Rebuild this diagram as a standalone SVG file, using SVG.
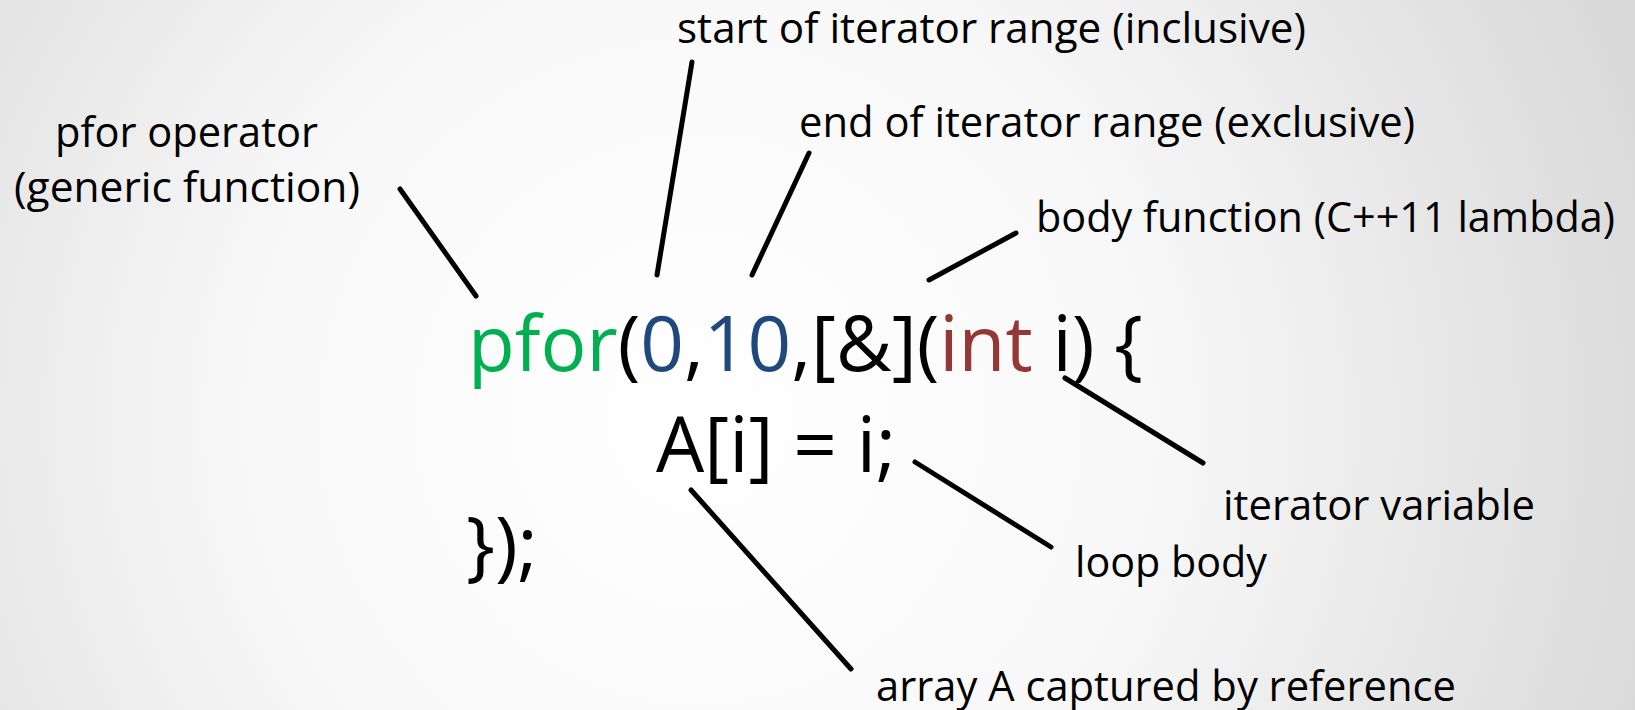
<svg xmlns="http://www.w3.org/2000/svg" width="1635" height="710" viewBox="0 0 1635 710">
<defs>
<radialGradient id="bg" cx="700" cy="420" r="1000" gradientUnits="userSpaceOnUse">
<stop offset="0" stop-color="#ffffff"/>
<stop offset="0.45" stop-color="#f8f8f8"/>
<stop offset="1" stop-color="#d9d9d9"/>
</radialGradient>
<style>
.lbl{font-family:"Open Sans","Noto Sans",sans-serif;font-size:42px;fill:#000}
.code{font-family:"Open Sans","Noto Sans",sans-serif;font-size:77px;fill:#000}
.g{fill:#00B050}.b{fill:#1F497D}.r{fill:#953735}
.ln{stroke:#000;stroke-width:5;stroke-linecap:round;fill:none}
</style>
</defs>
<rect width="1635" height="710" fill="url(#bg)"/>
<g id="code">
<text class="code" x="468" y="371" textLength="675" lengthAdjust="spacingAndGlyphs"><tspan class="g">pfor</tspan>(<tspan class="b">0</tspan>,<tspan class="b">10</tspan>,[&amp;](<tspan class="r">int</tspan> i) {</text>
<text class="code" x="656" y="472" textLength="240" lengthAdjust="spacingAndGlyphs">A[i] = i;</text>
<text class="code" x="466" y="572">});</text>
</g>
<g id="label-pfor">
<text class="lbl" x="55" y="147" textLength="263" lengthAdjust="spacingAndGlyphs">pfor operator</text>
<text class="lbl" x="14" y="202" textLength="346" lengthAdjust="spacingAndGlyphs">(generic function)</text>
</g>
<g id="label-start"><text class="lbl" x="677" y="43" textLength="629" lengthAdjust="spacingAndGlyphs">start of iterator range (inclusive)</text></g>
<g id="label-end"><text class="lbl" x="799" y="137" textLength="616" lengthAdjust="spacingAndGlyphs">end of iterator range (exclusive)</text></g>
<g id="label-body"><text class="lbl" x="1036" y="232" textLength="579" lengthAdjust="spacingAndGlyphs">body function (C++11 lambda)</text></g>
<g id="label-iter"><text class="lbl" x="1223" y="520" textLength="312" lengthAdjust="spacingAndGlyphs">iterator variable</text></g>
<g id="label-loop"><text class="lbl" x="1075" y="577" textLength="192" lengthAdjust="spacingAndGlyphs">loop body</text></g>
<g id="label-array"><text class="lbl" x="876" y="701" textLength="580" lengthAdjust="spacingAndGlyphs">array A captured by reference</text></g>
<g id="connectors">
<line class="ln" x1="400" y1="189" x2="476" y2="296"/>
<line class="ln" x1="692" y1="62" x2="657" y2="275"/>
<line class="ln" x1="809" y1="153" x2="752" y2="275"/>
<line class="ln" x1="1016" y1="233" x2="929" y2="280"/>
<line class="ln" x1="1065" y1="378" x2="1203" y2="463"/>
<line class="ln" x1="915" y1="462" x2="1051" y2="547"/>
<line class="ln" x1="691" y1="490" x2="851" y2="669"/>
</g>
</svg>
